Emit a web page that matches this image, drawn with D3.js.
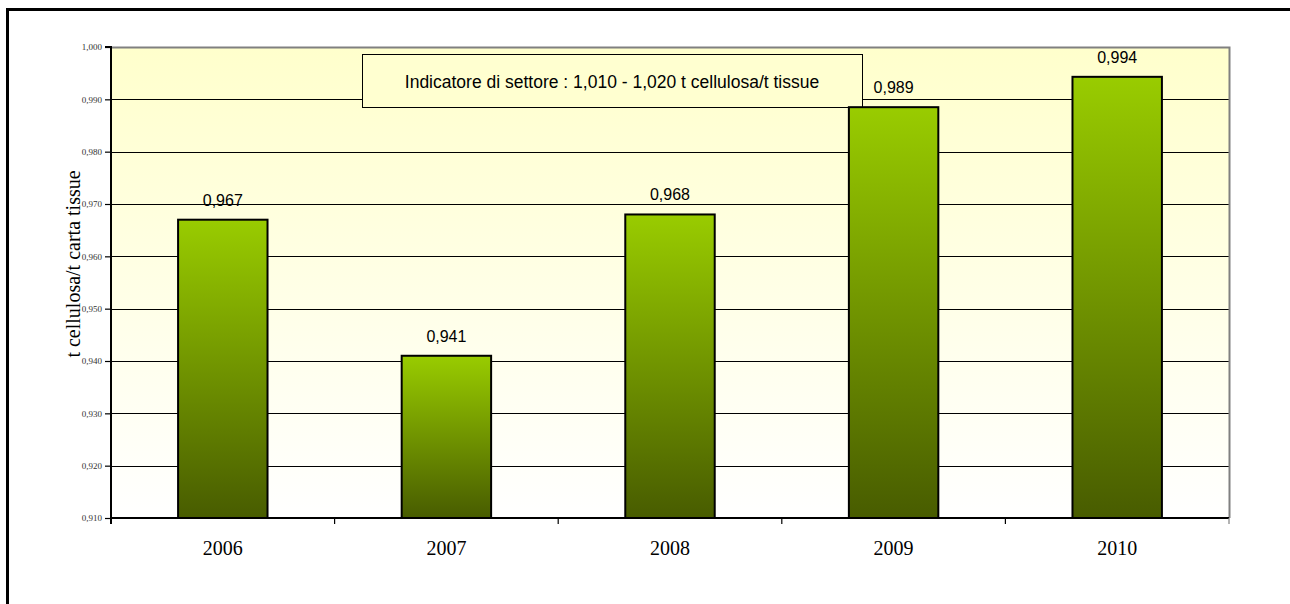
<!DOCTYPE html>
<html>
<head>
<meta charset="utf-8">
<script src="https://cdn.jsdelivr.net/npm/d3@7"></script>
<style>
  html, body { margin: 0; padding: 0; background: #fff; overflow: hidden; }
  svg { display: block; }
</style>
</head>
<body>
<svg id="chart" width="1290" height="604"></svg>
<script>
// Consumo specifico di cellulosa per tonnellata di carta tissue
const years = ["2006", "2007", "2008", "2009", "2010"];
const values = [0.967, 0.941, 0.968, 0.9885, 0.9943];
const valueLabels = ["0,967", "0,941", "0,968", "0,989", "0,994"];
const yTicks = [0.910, 0.920, 0.930, 0.940, 0.950, 0.960, 0.970, 0.980, 0.990, 1.000];
const yTitle = "t cellulosa/t carta tissue";
const noteText = "Indicatore di settore : 1,010 - 1,020 t cellulosa/t tissue";

const svg = d3.select("#chart");
const plot = { left: 111, top: 47, right: 1229, bottom: 518 };

const x = d3.scaleBand().domain(years).range([plot.left, plot.right]).paddingInner(0.6).paddingOuter(0.3);
const xOuter = d3.scaleBand().domain(years).range([plot.left, plot.right]);
const y = d3.scaleLinear().domain([0.910, 1.000]).range([plot.bottom, plot.top]);
const fmt = d => d3.format(".3f")(d).replace(".", ",");

const defs = svg.append("defs");
const bg = defs.append("linearGradient").attr("id", "bgGrad").attr("x1", 0).attr("y1", 0).attr("x2", 0).attr("y2", 1);
bg.append("stop").attr("offset", "0%").attr("stop-color", "#FFFFCC");
bg.append("stop").attr("offset", "100%").attr("stop-color", "#FFFFFF");

const barGrad = defs.append("linearGradient").attr("id", "barGrad")
  .attr("gradientUnits", "objectBoundingBox").attr("x1", 0).attr("y1", 0).attr("x2", 0).attr("y2", 1);
barGrad.append("stop").attr("offset", "0%").attr("stop-color", "#99CC00");
barGrad.append("stop").attr("offset", "100%").attr("stop-color", "#485C00");

// chart frame (left and top edges fall inside the page)
svg.append("path").attr("d", "M7.5,604V9.5H1290")
  .attr("fill", "none").attr("stroke", "#000").attr("stroke-width", 3);

// plot area background
svg.append("rect").attr("x", plot.left).attr("y", plot.top)
  .attr("width", plot.right - plot.left).attr("height", plot.bottom - plot.top)
  .attr("fill", "url(#bgGrad)");

// horizontal gridlines
svg.append("g").selectAll("line").data(yTicks.filter(t => t > 0.910 && t < 1.0)).join("line")
  .attr("x1", plot.left).attr("x2", plot.right)
  .attr("y1", d => Math.round(y(d)) + 0.5).attr("y2", d => Math.round(y(d)) + 0.5)
  .attr("stroke", "#000").attr("stroke-width", 1);

// plot border top & right
svg.append("path")
  .attr("d", `M${plot.left},${plot.top + 0.5}H${plot.right + 0.5}V${plot.bottom}`)
  .attr("fill", "none").attr("stroke", "#808080").attr("stroke-width", 2);

// note box
svg.append("rect").attr("x", 362.5).attr("y", 54.5).attr("width", 500).attr("height", 53)
  .attr("fill", "#FFFFD0").attr("stroke", "#000").attr("stroke-width", 1);
svg.append("text").attr("x", 612).attr("y", 88).attr("text-anchor", "middle")
  .attr("font-family", "Arial, 'Liberation Sans', sans-serif").attr("font-size", 17.5).attr("fill", "#000")
  .text(noteText);

// bars
svg.append("g").selectAll("rect").data(values).join("rect")
  .attr("x", (d, i) => x(years[i]))
  .attr("y", d => y(d))
  .attr("width", x.bandwidth())
  .attr("height", d => plot.bottom - y(d))
  .attr("fill", "url(#barGrad)")
  .attr("stroke", "#000").attr("stroke-width", 2);

// value labels
svg.append("g").selectAll("text").data(values).join("text")
  .attr("x", (d, i) => x(years[i]) + x.bandwidth() / 2)
  .attr("y", d => y(d) - 14)
  .attr("text-anchor", "middle")
  .attr("font-family", "Arial, 'Liberation Sans', sans-serif").attr("font-size", 16).attr("fill", "#000")
  .text((d, i) => valueLabels[i]);

// y axis
const yAxis = d3.axisLeft(y).tickValues(yTicks).tickFormat(fmt).tickSize(6).tickPadding(3);
const gy = svg.append("g").attr("transform", `translate(${plot.left},0)`).call(yAxis);
gy.select(".domain").attr("stroke", "#000").attr("stroke-width", 2).attr("d", `M-6,${plot.top}H0V${plot.bottom + 6}`);
gy.selectAll(".tick line").attr("stroke", "#000").attr("stroke-width", 1.2);
gy.selectAll(".tick text").attr("font-family", "'Times New Roman', 'Liberation Serif', serif")
  .attr("font-size", 9).attr("fill", "#333");

// x axis
const xAxis = d3.axisBottom(xOuter).tickSize(0).tickPadding(0).tickFormat(d => d);
const gx = svg.append("g").attr("transform", `translate(0,${plot.bottom})`).call(xAxis);
gx.select(".domain").attr("stroke", "#000").attr("stroke-width", 2).attr("d", `M${plot.left},0H${plot.right}`);
gx.selectAll(".tick text").attr("dy", 0).attr("y", 37)
  .attr("font-family", "'Times New Roman', 'Liberation Serif', serif")
  .attr("font-size", 20).attr("fill", "#000");
// category separator ticks
const sepPos = years.map(d => xOuter(d)).concat([plot.right]);
gx.append("g").selectAll("line").data(sepPos).join("line")
  .attr("x1", d => d).attr("x2", d => d).attr("y1", 0).attr("y2", 6)
  .attr("stroke", (d, i) => i === sepPos.length - 1 ? "#808080" : "#000").attr("stroke-width", 1.2);

// y axis title
svg.append("text")
  .attr("transform", `translate(80,264) rotate(-90)`)
  .attr("text-anchor", "middle")
  .attr("font-family", "'Times New Roman', 'Liberation Serif', serif")
  .attr("font-size", 20).attr("fill", "#000")
  .text(yTitle);
</script>
</body>
</html>
